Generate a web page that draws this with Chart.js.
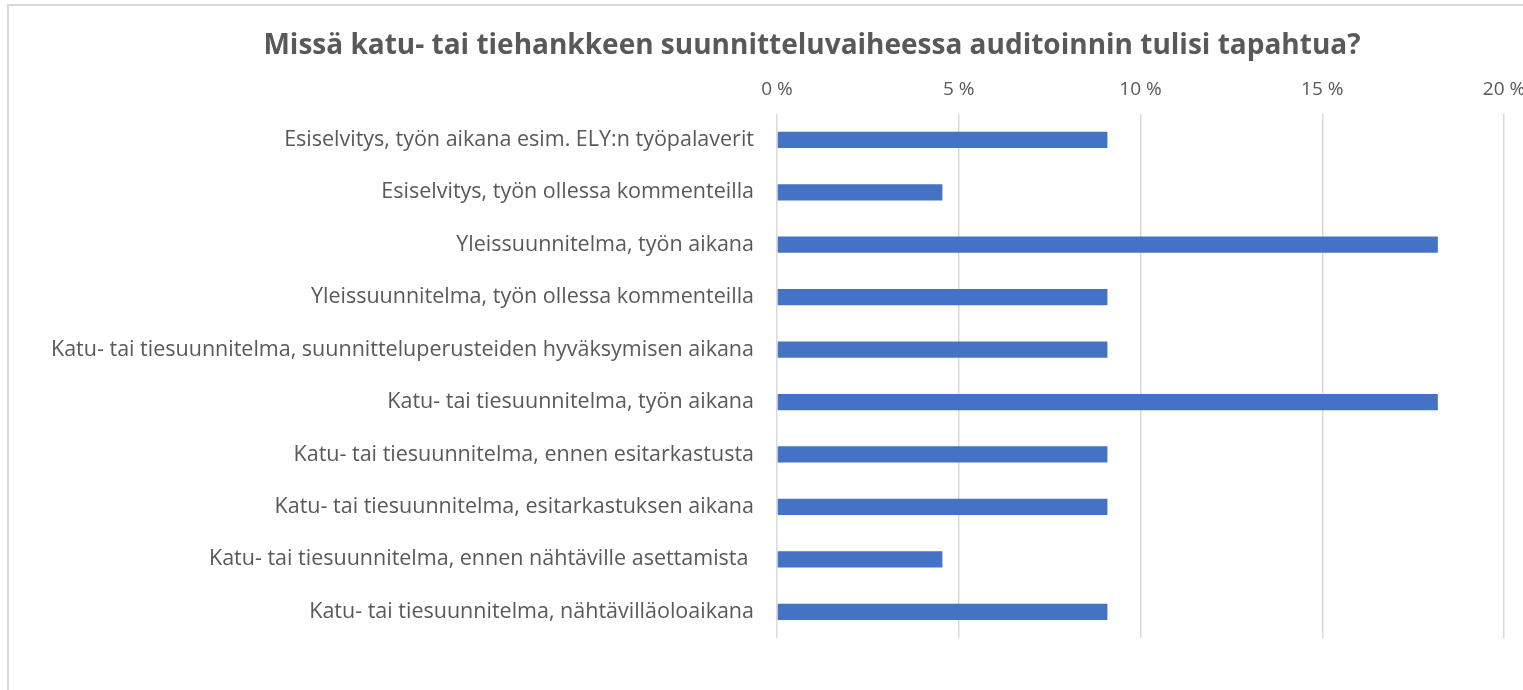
<!DOCTYPE html>
<html>
<head>
<meta charset="utf-8">
<script src="https://cdn.jsdelivr.net/npm/chart.js@4"></script>
<style>
  html, body { margin: 0; padding: 0; background: #fff; overflow: hidden; }
  #frame {
    position: absolute; left: 7px; top: 4px;
    width: 1610px; height: 700px;
    border: 2px solid #d9d9d9;
  }
</style>
</head>
<body>
<div id="frame"><canvas id="chart" width="1610" height="700"></canvas></div>
<script>
// Vastaukset (%)
const categories = [
    'Esiselvitys, työn aikana esim. ELY:n työpalaverit',
    'Esiselvitys, työn ollessa kommenteilla',
    'Yleissuunnitelma, työn aikana',
    'Yleissuunnitelma, työn ollessa kommenteilla',
    'Katu- tai tiesuunnitelma, suunnitteluperusteiden hyväksymisen aikana',
    'Katu- tai tiesuunnitelma, työn aikana',
    'Katu- tai tiesuunnitelma, ennen esitarkastusta',
    'Katu- tai tiesuunnitelma, esitarkastuksen aikana',
    'Katu- tai tiesuunnitelma, ennen nähtäville asettamista ',
    'Katu- tai tiesuunnitelma, nähtävilläoloaikana'
];
const values = [9.09, 4.55, 18.18, 9.09, 9.09, 18.18, 9.09, 9.09, 4.55, 9.09];
const tickValues = [0, 5, 10, 15, 20];

const grey = '#595959';
const font = '"Open Sans", sans-serif';

// otsikko keskitetään koko kuvan leveydelle (kuva on rajattu oikealta)
const titleShift = {
    id: 'titleShift',
    afterLayout(chart) {
        if (chart.titleBlock) { chart.titleBlock.left = 0; chart.titleBlock.right = 1606; }
    }
};

new Chart(document.getElementById('chart'), {
    type: 'bar',
    data: {
        labels: categories,
        datasets: [{
            data: values,
            backgroundColor: '#4472C4',
            borderWidth: 0,
            barPercentage: 0.31,
            categoryPercentage: 1
        }]
    },
    options: {
        indexAxis: 'y',
        responsive: false,
        animation: false,
        layout: { padding: { left: 0, right: 115, bottom: 68 } },
        plugins: {
            legend: { display: false },
            tooltip: { enabled: false },
            title: {
                display: true,
                text: 'Missä katu- tai tiehankkeen suunnitteluvaiheessa auditoinnin tulisi tapahtua?',
                color: grey,
                font: { family: font, size: 28, weight: 'bold' },
                padding: { top: 23, bottom: 7 }
            }
        },
        scales: {
            x: {
                position: 'top',
                min: 0,
                max: 20,
                afterBuildTicks: s => { s.ticks = tickValues.map(v => ({ value: v })); },
                afterFit: s => { s.height = 44; },
                ticks: {
                    color: grey,
                    padding: 13,
                    font: { family: font, size: 19 },
                    callback: v => v + ' %'
                },
                grid: { color: '#d9d9d9', lineWidth: 1.5, drawTicks: false },
                border: { display: false }
            },
            y: {
                afterFit: s => { s.width = 768; },
                ticks: {
                    color: grey,
                    padding: 15,
                    font: { family: font, size: 21.5 }
                },
                grid: { display: false },
                border: { display: false }
            }
        }
    },
    plugins: [titleShift]
});
</script>
</body>
</html>
